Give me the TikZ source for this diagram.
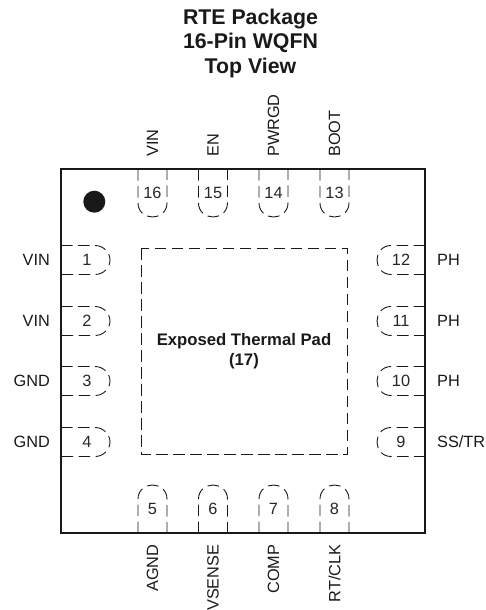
\documentclass[tikz,border=0pt]{standalone}
\usepackage{fontspec}
\setmainfont{Liberation Sans}
\usepackage{xcolor}
\tikzset{pad line/.style={dash pattern=on 11.5pt off 5.5pt,line width=0.9pt,black!90},
	pin num/.style={font=\fontsize{16.3}{18}\selectfont,inner sep=0pt,black!85},
	pin name/.style={font=\fontsize{16.3}{18}\selectfont,inner sep=0pt,black!90},
	top name/.style={pin name,rotate=90,anchor=west},
	bot name/.style={pin name,rotate=90,anchor=east}}

\begin{document}
\begin{tikzpicture}[x=1pt,y=-1pt]
	\useasboundingbox (0,0) rectangle (486,610);
	\node[align=center,font=\bfseries\fontsize{21.3}{24.5}\selectfont,inner sep=0pt,black!90] (title) at (250.5,43) {RTE Package\\16-Pin WQFN\\Top View};
	
	% package outline
	\draw[line width=2pt,black!90] (61,169) rectangle (425,533);
	\node[circle,fill=black!90,minimum size=22pt,inner sep=0pt] (dot) at (94.3,201.7) {};
	
	% thermal pad
	\draw[pad line] (141,248) rectangle (347,454);
	\node[align=center,font=\bfseries\fontsize{16.7}{20}\selectfont,inner sep=0pt,black!90] (tpad) at (244,351) {Exposed Thermal Pad\\(17)};
	
	% top pads
	\foreach \x/\n/\name in {152.5/16/VIN,213/15/EN,273.5/14/PWRGD,334.5/13/BOOT}{
		\draw[pad line] (\x-14.5,169) -- (\x-14.5,203) .. controls (\x-14.5,212) and (\x-7,217) .. (\x,217) .. controls (\x+7,217) and (\x+14.5,212) .. (\x+14.5,203) -- (\x+14.5,169);
		\node[pin num] (p\n) at (\x,193) {\n};
		\node[top name] (n\n) at (\x,157) {\name};
	}
	% bottom pads
	\foreach \x/\n/\name in {152.5/5/AGND,213/6/VSENSE,273.5/7/COMP,334.5/8/RT\slash CLK}{
		\draw[pad line] (\x-14.5,533) -- (\x-14.5,499) .. controls (\x-14.5,490) and (\x-7,485) .. (\x,485) .. controls (\x+7,485) and (\x+14.5,490) .. (\x+14.5,499) -- (\x+14.5,533);
		\node[pin num] (p\n) at (\x,509) {\n};
		\node[bot name] (n\n) at (\x,544.5) {\name};
	}
	% left pads
	\foreach \y/\n/\name in {260/1/VIN,321/2/VIN,381/3/GND,442/4/GND}{
		\draw[pad line] (61,\y-14.5) -- (95,\y-14.5) .. controls (104,\y-14.5) and (110,\y-7) .. (110,\y) .. controls (110,\y+7) and (104,\y+14.5) .. (95,\y+14.5) -- (61,\y+14.5);
		\node[pin num] (p\n) at (87,\y) {\n};
		\node[pin name,anchor=east] (n\n) at (50,\y) {\name};
	}
	% right pads
	\foreach \y/\n/\name in {260/12/PH,321/11/PH,381/10/PH,442/9/SS\slash TR}{
		\draw[pad line] (425,\y-14.5) -- (391,\y-14.5) .. controls (382,\y-14.5) and (377,\y-7) .. (377,\y) .. controls (377,\y+7) and (382,\y+14.5) .. (391,\y+14.5) -- (425,\y+14.5);
		\node[pin num] (p\n) at (401,\y) {\n};
		\node[pin name,anchor=west] (n\n) at (437,\y) {\name};
	}
\end{tikzpicture}
\end{document}
